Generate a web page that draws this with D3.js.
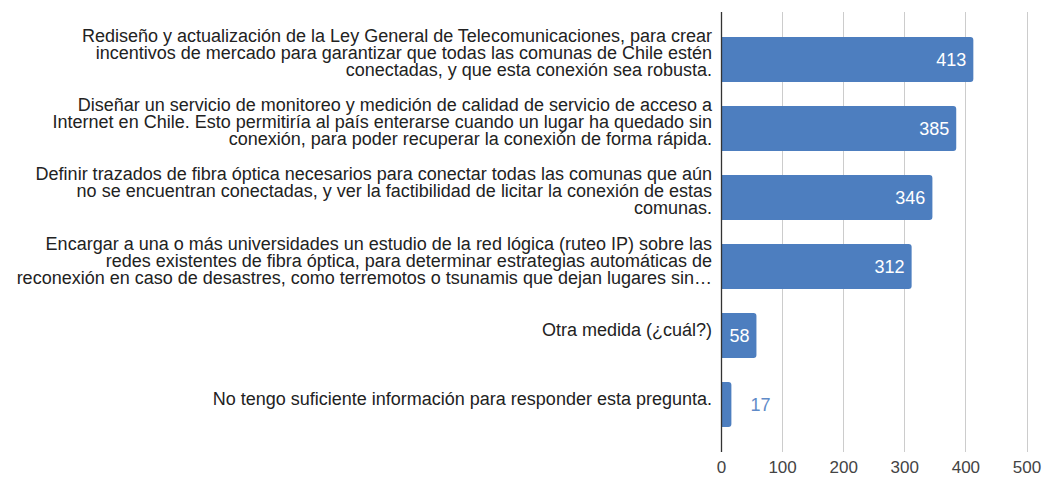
<!DOCTYPE html>
<html>
<head>
<meta charset="utf-8">
<script src="https://cdn.jsdelivr.net/npm/d3@7"></script>
<style>
  body { margin: 0; background: #fff; font-family: "Liberation Sans", Arial, sans-serif; }
  .cat { font-size: 18px; fill: #222; }
  .tick text { font-size: 17px; fill: #444; font-family: "Liberation Sans", Arial, sans-serif; }
</style>
</head>
<body>
<div id="chart"></div>
<script>
const width = 1044, height = 477;
const margin = { top: 12, right: 17, bottom: 25, left: 721 };
const innerWidth = width - margin.left - margin.right;
const innerHeight = height - margin.top - margin.bottom;

// answer options (already wrapped as in the picture) and their counts
const categories = [
  ["Rediseño y actualización de la Ley General de Telecomunicaciones, para crear",
   "incentivos de mercado para garantizar que todas las comunas de Chile estén",
   "conectadas, y que esta conexión sea robusta."],
  ["Diseñar un servicio de monitoreo y medición de calidad de servicio de acceso a",
   "Internet en Chile. Esto permitiría al país enterarse cuando un lugar ha quedado sin",
   "conexión, para poder recuperar la conexión de forma rápida."],
  ["Definir trazados de fibra óptica necesarios para conectar todas las comunas que aún",
   "no se encuentran conectadas, y ver la factibilidad de licitar la conexión de estas",
   "comunas."],
  ["Encargar a una o más universidades un estudio de la red lógica (ruteo IP) sobre las",
   "redes existentes de fibra óptica, para determinar estrategias automáticas de",
   "reconexión en caso de desastres, como terremotos o tsunamis que dejan lugares sin…"],
  ["Otra medida (¿cuál?)"],
  ["No tengo suficiente información para responder esta pregunta."]
];
const values = [413, 385, 346, 312, 58, 17];
const xTicks = [0, 100, 200, 300, 400, 500];

const data = values.map((v, i) => ({ id: i, lines: categories[i], value: v }));

const svg = d3.select("#chart").append("svg")
  .attr("width", width).attr("height", height);

const inner = svg.append("g")
  .attr("transform", `translate(${margin.left},${margin.top})`);

const x = d3.scaleLinear().domain([0, 500]).range([0, innerWidth - 0.5]);
const y = d3.scaleBand().domain(data.map(d => d.id)).range([0, innerHeight])
  .paddingInner(0.348).paddingOuter(0.362);

// grid
inner.append("g").selectAll("line").data(xTicks.slice(1)).join("line")
  .attr("x1", d => Math.round(x(d)) + 0.5).attr("x2", d => Math.round(x(d)) + 0.5)
  .attr("y1", 0).attr("y2", innerHeight)
  .attr("stroke", "#cccccc").attr("stroke-width", 1);

// x axis labels
inner.append("g")
  .attr("transform", `translate(0,${innerHeight})`)
  .call(d3.axisBottom(x).tickValues(xTicks).tickSize(0).tickPadding(9))
  .call(g => g.select(".domain").remove());

// bars, rounded on the right end
const r = 3;
inner.append("g").selectAll("path").data(data).join("path")
  .attr("fill", "#4d7ebf")
  .attr("d", d => {
    const w = x(d.value), y0 = y(d.id), h = y.bandwidth();
    return `M0,${y0}H${w - r}Q${w},${y0} ${w},${y0 + r}V${y0 + h - r}Q${w},${y0 + h} ${w - r},${y0 + h}H0Z`;
  });

// value labels: inside the bar when it fits, else just past it
const fits = d => x(d.value) > 30;
inner.append("g").selectAll("text").data(data).join("text")
  .attr("x", d => fits(d) ? x(d.value) - 7 : x(d.value) + 19)
  .attr("y", d => y(d.id) + y.bandwidth() / 2)
  .attr("dy", "0.36em")
  .attr("text-anchor", d => fits(d) ? "end" : "start")
  .attr("fill", d => fits(d) ? "#ffffff" : "#5f8bc8")
  .style("font-size", "18px")
  .text(d => d.value);

// y axis line
inner.append("line")
  .attr("x1", 0.5).attr("x2", 0.5).attr("y1", 0).attr("y2", innerHeight)
  .attr("stroke", "#333").attr("stroke-width", 1.3);

// category labels
const lineH = 17;
const cats = inner.append("g").selectAll("text").data(data).join("text")
  .attr("class", "cat")
  .attr("text-anchor", "end")
  .attr("x", -9)
  .attr("y", d => y(d.id) + y.bandwidth() / 2 - (d.lines.length - 1) * lineH / 2)
  .attr("dy", "0.45em");
cats.selectAll("tspan").data(d => d.lines).join("tspan")
  .attr("x", -9)
  .attr("dy", (l, i) => i === 0 ? 0 : lineH)
  .text(l => l);
</script>
</body>
</html>
